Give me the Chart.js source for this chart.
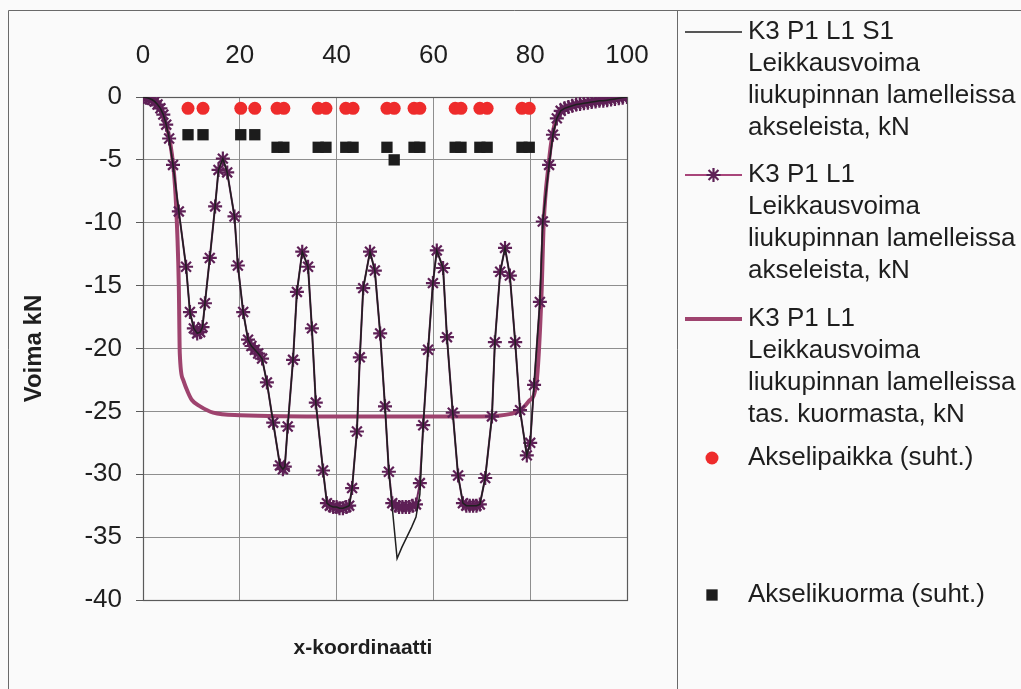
<!DOCTYPE html>
<html>
<head>
<meta charset="utf-8">
<title>Leikkausvoima liukupinnan lamelleissa</title>
<script src="https://cdn.jsdelivr.net/npm/chart.js@4/dist/chart.umd.min.js"></script>
<style>
  html, body { margin: 0; padding: 0; background: #fafafa; }
  #wrap { position: relative; width: 1021px; height: 689px; }
</style>
</head>
<body>
<div id="wrap"><canvas id="chart"></canvas></div>
<script>
// Shear force in slip-surface slices from axle loads (with star markers)
const starX = [0, 0.6, 1.2, 1.8, 2.4, 3.0, 3.6, 4.2, 4.8, 5.4, 6.2, 7.4, 8.9, 9.7, 10.5, 11.2, 11.8, 12.3, 12.8, 13.8,
  14.9, 15.6, 16.5, 17.4, 18.9, 19.6, 20.7, 21.7, 22.4, 23.1, 23.8, 24.6, 25.6, 26.9, 28.3, 28.9, 29.3, 29.9, 31.0, 31.8,
  32.9, 34.1, 34.9, 35.7, 37.2, 38.0, 38.6, 39.3, 40.0, 40.6, 41.3, 42.0, 42.6, 43.2, 44.2, 44.8, 45.5, 46.9, 47.9, 49.0,
  50.0, 50.8, 51.5, 52.2, 52.9, 53.6, 54.3, 55.0, 55.7, 56.4, 57.2, 57.9, 58.9, 59.9, 60.7, 62.0, 62.8, 64.0, 65.1, 66.1,
  66.8, 67.5, 68.2, 68.9, 69.6, 70.7, 72.1, 72.7, 73.8, 74.8, 75.8, 76.9, 77.9, 79.3, 80.0, 80.8, 82.0, 82.6, 83.9, 84.7,
  85.5, 86.3, 87.1, 87.9, 88.7, 89.5, 90.3, 91.1, 91.9, 92.7, 93.5, 94.3, 95.1, 95.9, 96.7, 97.5, 98.3, 99.1, 100];
const starY = [0, -0.05, -0.1, -0.2, -0.35, -0.6, -0.9, -1.4, -2.2, -3.3, -5.4, -9.1, -13.5, -17.1, -18.4, -18.8, -18.7, -18.3, -16.4, -12.8,
  -8.7, -5.8, -4.9, -6.0, -9.5, -13.4, -17.1, -19.3, -19.8, -20.1, -20.4, -20.8, -22.7, -25.9, -29.3, -29.6, -29.4, -26.2, -20.9, -15.5,
  -12.3, -13.5, -18.4, -24.3, -29.7, -32.3, -32.5, -32.6, -32.6, -32.7, -32.7, -32.6, -32.5, -31.1, -26.6, -20.7, -15.2, -12.3, -13.8, -18.8,
  -24.6, -29.8, -32.3, -32.5, -32.6, -32.6, -32.6, -32.6, -32.5, -32.4, -30.7, -26.1, -20.1, -14.8, -12.2, -13.6, -19.1, -25.1, -30.1, -32.3,
  -32.5, -32.5, -32.5, -32.5, -32.4, -30.3, -25.4, -19.5, -13.9, -12.0, -14.2, -19.5, -24.9, -28.5, -27.5, -22.9, -16.3, -9.9, -5.4, -3.0,
  -1.7, -1.1, -0.9, -0.8, -0.7, -0.6, -0.55, -0.5, -0.45, -0.4, -0.35, -0.3, -0.3, -0.25, -0.2, -0.15, -0.1, -0.05, 0];

// Same quantity for case S1 (thin black line)
const s1X = [0, 0.6, 1.2, 1.8, 2.4, 3.0, 3.6, 4.2, 4.8, 5.4, 6.2, 7.4, 8.9, 9.7, 10.5, 11.2, 11.8, 12.3, 12.8, 13.8,
  14.9, 15.6, 16.5, 17.4, 18.9, 19.6, 20.7, 21.7, 22.4, 23.1, 23.8, 24.6, 25.6, 26.9, 28.3, 28.9, 29.3, 29.9, 31.0, 31.8,
  32.9, 34.1, 34.9, 35.7, 37.2, 38.0, 38.6, 39.3, 40.0, 40.6, 41.3, 42.0, 42.6, 43.2, 44.2, 44.8, 45.5, 46.9, 47.9, 49.0,
  50.0, 50.8, 52.5, 53.5, 54.5, 55.5, 56.4, 57.2, 57.9, 58.9, 59.9, 60.7, 62.0, 62.8, 64.0, 65.1, 66.1,
  66.8, 67.5, 68.2, 68.9, 69.6, 70.7, 72.1, 72.7, 73.8, 74.8, 75.8, 76.9, 77.9, 79.3, 80.0, 80.8, 82.0, 82.6, 83.9, 84.7,
  85.5, 86.3, 87.1, 87.9, 88.7, 89.5, 90.3, 91.1, 91.9, 92.7, 93.5, 94.3, 95.1, 95.9, 96.7, 97.5, 98.3, 99.1, 100];
const s1Y = [0, -0.05, -0.1, -0.2, -0.35, -0.6, -0.9, -1.4, -2.2, -3.3, -5.4, -9.1, -13.5, -17.1, -18.4, -18.8, -18.7, -18.3, -16.4, -12.8,
  -8.7, -5.8, -4.9, -6.0, -9.5, -13.4, -17.1, -19.3, -19.8, -20.1, -20.4, -20.8, -22.7, -25.9, -29.3, -29.6, -29.4, -26.2, -20.9, -15.5,
  -12.3, -13.5, -18.4, -24.3, -29.7, -32.3, -32.5, -32.6, -32.6, -32.7, -32.7, -32.6, -32.5, -31.1, -26.6, -20.7, -15.2, -12.3, -13.8, -18.8,
  -24.6, -29.8, -36.7, -35.8, -35.0, -34.2, -33.4, -31.6, -26.1, -20.1, -14.8, -12.2, -13.6, -19.1, -25.1, -30.1, -32.3,
  -32.5, -32.5, -32.5, -32.5, -32.4, -30.3, -25.4, -19.5, -13.9, -12.0, -14.2, -19.5, -24.9, -28.5, -27.5, -22.9, -16.3, -9.9, -5.4, -3.0,
  -1.7, -1.1, -0.9, -0.8, -0.7, -0.6, -0.55, -0.5, -0.45, -0.4, -0.35, -0.3, -0.3, -0.25, -0.2, -0.15, -0.1, -0.05, 0];

// Shear force from the uniformly distributed load (thick smooth line)
const udlX = [0, 3.0, 4.2, 5.6, 6.6, 7.1, 7.4, 7.6, 8.3, 9.3, 10.1, 11.8, 14.5, 20.0, 40.0, 70.0, 76.0, 78.0, 79.7, 81.3,
  82.3, 82.8, 83.8, 84.6, 86.0, 90.0, 95.0, 100];
const udlY = [0, -0.5, -1.7, -3.6, -7.0, -11.0, -15.0, -20.4, -22.5, -23.5, -24.1, -24.6, -25.1, -25.3, -25.4, -25.4, -25.2, -24.9, -24.2, -22.7,
  -16.1, -10.0, -5.4, -3.0, -1.2, -0.6, -0.3, 0];

// Axle positions (relative) and axle loads (relative)
const axlePosX = [9.3, 12.4, 20.2, 23.1, 27.7, 29.1, 36.2, 37.8, 41.9, 43.4, 50.4, 51.9, 56.0, 57.2, 64.5, 65.7, 69.6, 71.1, 78.3, 79.8];
const axlePosY = [-0.9, -0.9, -0.9, -0.9, -0.9, -0.9, -0.9, -0.9, -0.9, -0.9, -0.9, -0.9, -0.9, -0.9, -0.9, -0.9, -0.9, -0.9, -0.9, -0.9];
const axleLoadX = [9.3, 12.4, 20.2, 23.1, 27.7, 29.1, 36.2, 37.8, 41.9, 43.4, 50.4, 51.9, 56.0, 57.2, 64.5, 65.7, 69.6, 71.1, 78.3, 79.8];
const axleLoadY = [-3, -3, -3, -3, -4, -4, -4, -4, -4, -4, -4, -5, -4, -4, -4, -4, -4, -4, -4, -4];

const xTickValues = [0, 20, 40, 60, 80, 100];
const yTickValues = [0, -5, -10, -15, -20, -25, -30, -35, -40];

const legendLines = [
  ['K3 P1 L1 S1', 'Leikkausvoima', 'liukupinnan lamelleissa', 'akseleista, kN'],
  ['K3 P1 L1', 'Leikkausvoima', 'liukupinnan lamelleissa', 'akseleista, kN'],
  ['K3 P1 L1', 'Leikkausvoima', 'liukupinnan lamelleissa', 'tas. kuormasta, kN'],
  ['Akselipaikka (suht.)'],
  ['Akselikuorma (suht.)']
];

const pts = (xs, ys) => xs.map((x, i) => ({ x: x, y: ys[i] }));

const FONT = '"Liberation Sans", Arial, Helvetica, sans-serif';
const TEXT = '#1e1e1e';
Chart.defaults.font.family = FONT;
Chart.defaults.color = TEXT;

// Page frame, plot outline, x-axis title and side legend
const framePlugin = {
  id: 'frame',
  beforeDraw(chart) {
    const ctx = chart.ctx;
    ctx.save();
    ctx.fillStyle = '#fafafa';
    ctx.fillRect(0, 0, chart.width, chart.height);
    ctx.strokeStyle = '#6a6a6a';
    ctx.lineWidth = 1;
    ctx.beginPath();
    ctx.moveTo(8.5, chart.height);
    ctx.lineTo(8.5, 10.5);
    ctx.lineTo(chart.width, 10.5);
    ctx.moveTo(677.5, 10.5);
    ctx.lineTo(677.5, chart.height);
    ctx.stroke();
    ctx.restore();
  },
  beforeDatasetsDraw(chart) {
    const a = chart.chartArea, ctx = chart.ctx;
    ctx.save();
    ctx.strokeStyle = '#5a5a5a';
    ctx.lineWidth = 1.2;
    ctx.strokeRect(Math.round(a.left) + 0.5, Math.round(a.top) + 0.5,
      Math.round(a.right - a.left), Math.round(a.bottom - a.top));
    ctx.restore();
  },
  afterDraw(chart) {
    const ctx = chart.ctx;
    ctx.save();
    // x-axis title below the plot
    ctx.font = 'bold 21px ' + FONT;
    ctx.fillStyle = TEXT;
    ctx.textAlign = 'center';
    ctx.textBaseline = 'middle';
    ctx.fillText('x-koordinaatti', 363, 648);

    // legend
    const rowY = [32, 175, 319, 458, 595];
    const lh = 32;
    const sx0 = 685, sx1 = 742, tx = 748, mx = 712;
    ctx.font = '26px ' + FONT;
    ctx.textAlign = 'left';
    chart.data.datasets.forEach((ds, i) => {
      const y = rowY[i];
      if (ds.showLine !== false) {
        ctx.strokeStyle = ds.legendLineColor || ds.borderColor;
        ctx.lineWidth = ds.borderWidth;
        ctx.beginPath();
        ctx.moveTo(sx0, y);
        ctx.lineTo(sx1, y);
        ctx.stroke();
      }
      if (ds.pointRadius > 0) {
        const cx = ds.showLine !== false ? (sx0 + sx1) / 2 : mx;
        ctx.fillStyle = ds.pointBackgroundColor;
        ctx.strokeStyle = ds.pointBorderColor;
        ctx.lineWidth = ds.pointBorderWidth;
        Chart.helpers.drawPoint(ctx, {
          pointStyle: ds.pointStyle,
          radius: ds.pointRadius,
          borderWidth: ds.pointBorderWidth,
          rotation: 0
        }, cx, y);
      }
      ctx.fillStyle = TEXT;
      legendLines[i].forEach((t, k) => ctx.fillText(t, tx, y + k * lh));
    });
    ctx.restore();
  }
};

new Chart(document.getElementById('chart'), {
  type: 'scatter',
  data: {
    datasets: [
      {
        label: legendLines[0].join(' '),
        data: pts(s1X, s1Y),
        showLine: true,
        borderColor: '#1f1f1f',
        borderWidth: 1.5,
        pointRadius: 0,
        pointStyle: false
      },
      {
        label: legendLines[1].join(' '),
        data: pts(starX, starY),
        showLine: true,
        borderColor: '#6e2a5e',
        legendLineColor: '#a8457a',
        borderWidth: 2,
        pointStyle: 'star',
        pointRadius: 7,
        pointBorderWidth: 2.2,
        pointBorderColor: '#5e2056',
        pointBackgroundColor: '#5e2056'
      },
      {
        label: legendLines[2].join(' '),
        data: pts(udlX, udlY),
        showLine: true,
        borderColor: '#9e436e',
        borderWidth: 4,
        cubicInterpolationMode: 'monotone',
        pointRadius: 0,
        pointStyle: false
      },
      {
        label: legendLines[3][0],
        data: pts(axlePosX, axlePosY),
        showLine: false,
        pointStyle: 'circle',
        pointRadius: 6.5,
        pointBorderWidth: 0,
        pointBorderColor: '#ee2b2b',
        pointBackgroundColor: '#ee2b2b'
      },
      {
        label: legendLines[4][0],
        data: pts(axleLoadX, axleLoadY),
        showLine: false,
        pointStyle: 'rect',
        pointRadius: 8,
        pointBorderWidth: 0,
        pointBorderColor: '#1c1c1c',
        pointBackgroundColor: '#1c1c1c'
      }
    ]
  },
  options: {
    responsive: true,
    maintainAspectRatio: false,
    animation: false,
    events: [],
    layout: { padding: { left: 10, top: 12, right: 394, bottom: 89 } },
    plugins: {
      legend: { display: false },
      tooltip: { enabled: false }
    },
    scales: {
      x: {
        type: 'linear',
        position: 'top',
        min: 0,
        max: 100,
        afterBuildTicks: s => { s.ticks = xTickValues.map(v => ({ value: v })); },
        afterFit: s => { s.height = 85; },
        grid: { color: '#8e8e8e', lineWidth: 1, drawTicks: false },
        border: { color: '#5a5a5a', width: 1 },
        ticks: { font: { size: 26 }, color: TEXT, padding: 26, maxRotation: 0 }
      },
      y: {
        type: 'linear',
        position: 'left',
        min: -40,
        max: 0,
        afterBuildTicks: s => { s.ticks = yTickValues.map(v => ({ value: v })); },
        afterFit: s => { s.width = 133; },
        grid: { color: '#8e8e8e', lineWidth: 1, tickLength: 7, tickColor: '#5a5a5a' },
        border: { color: '#5a5a5a', width: 1 },
        ticks: { font: { size: 26 }, color: TEXT, padding: 14 },
        title: {
          display: true,
          text: 'Voima kN',
          font: { size: 24, weight: 'bold' },
          color: TEXT,
          padding: { top: 10, bottom: 0 }
        }
      }
    }
  },
  plugins: [framePlugin]
});
</script>
</body>
</html>
